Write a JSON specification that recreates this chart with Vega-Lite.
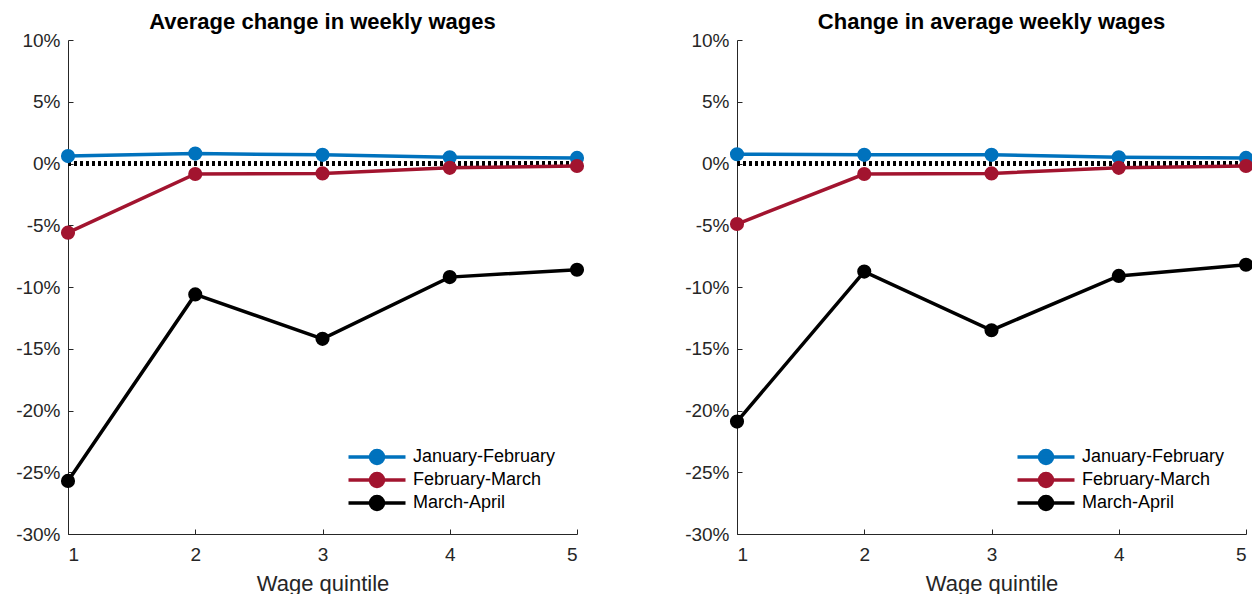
{
  "$schema": "https://vega.github.io/schema/vega-lite/v6.json",
  "padding": {"left": 15, "top": 11, "right": 0, "bottom": 0},
  "background": "white",
  "config": {
    "font": "Liberation Sans",
    "view": {"stroke": null},
    "concat": {"spacing": 99},
    "axis": {
      "domainColor": "#262626",
      "tickColor": "#262626",
      "labelColor": "#262626",
      "titleColor": "#262626",
      "labelFont": "Liberation Sans",
      "titleFont": "Liberation Sans",
      "labelFontSize": 19,
      "titleFontSize": 22,
      "titleFontWeight": "normal",
      "grid": false,
      "tickSize": -5,
      "domainWidth": 1,
      "tickWidth": 1
    },
    "title": {"font": "Liberation Sans", "fontSize": 22, "fontWeight": "bold", "color": "black", "offset": -3}
  },
  "datasets": {
    "wages": [
      {"panel": "A", "period": "January-February", "quintile": 1, "value": 0.6},
      {"panel": "A", "period": "January-February", "quintile": 2, "value": 0.8},
      {"panel": "A", "period": "January-February", "quintile": 3, "value": 0.7},
      {"panel": "A", "period": "January-February", "quintile": 4, "value": 0.5},
      {"panel": "A", "period": "January-February", "quintile": 5, "value": 0.45},
      {"panel": "A", "period": "February-March", "quintile": 1, "value": -5.6},
      {"panel": "A", "period": "February-March", "quintile": 2, "value": -0.85},
      {"panel": "A", "period": "February-March", "quintile": 3, "value": -0.8},
      {"panel": "A", "period": "February-March", "quintile": 4, "value": -0.35},
      {"panel": "A", "period": "February-March", "quintile": 5, "value": -0.2},
      {"panel": "A", "period": "March-April", "quintile": 1, "value": -25.7},
      {"panel": "A", "period": "March-April", "quintile": 2, "value": -10.6},
      {"panel": "A", "period": "March-April", "quintile": 3, "value": -14.2},
      {"panel": "A", "period": "March-April", "quintile": 4, "value": -9.2},
      {"panel": "A", "period": "March-April", "quintile": 5, "value": -8.6},
      {"panel": "B", "period": "January-February", "quintile": 1, "value": 0.75},
      {"panel": "B", "period": "January-February", "quintile": 2, "value": 0.7},
      {"panel": "B", "period": "January-February", "quintile": 3, "value": 0.7},
      {"panel": "B", "period": "January-February", "quintile": 4, "value": 0.5},
      {"panel": "B", "period": "January-February", "quintile": 5, "value": 0.45},
      {"panel": "B", "period": "February-March", "quintile": 1, "value": -4.9},
      {"panel": "B", "period": "February-March", "quintile": 2, "value": -0.85},
      {"panel": "B", "period": "February-March", "quintile": 3, "value": -0.8},
      {"panel": "B", "period": "February-March", "quintile": 4, "value": -0.35},
      {"panel": "B", "period": "February-March", "quintile": 5, "value": -0.2},
      {"panel": "B", "period": "March-April", "quintile": 1, "value": -20.9},
      {"panel": "B", "period": "March-April", "quintile": 2, "value": -8.75},
      {"panel": "B", "period": "March-April", "quintile": 3, "value": -13.5},
      {"panel": "B", "period": "March-April", "quintile": 4, "value": -9.1},
      {"panel": "B", "period": "March-April", "quintile": 5, "value": -8.2}
    ]
  },
  "hconcat": [
    {
      "width": 509,
      "height": 494,
      "title": "Average change in weekly wages",
      "data": {"name": "wages"},
      "transform": [{"filter": "datum.panel === 'A'"}],
      "layer": [
        {
          "mark": {"type": "rule", "strokeDash": [3, 3], "strokeWidth": 3.5, "color": "black"},
          "encoding": {
            "x": {"datum": 1, "type": "quantitative", "scale": {"domain": [1, 5], "nice": false, "zero": false}},
            "x2": {"datum": 5},
            "y": {"datum": 0, "type": "quantitative", "scale": {"domain": [-30, 10], "nice": false}}
          }
        },
        {
          "mark": {"type": "line", "strokeWidth": 3.5, "point": {"size": 200, "filled": true, "opacity": 1}},
          "encoding": {
            "x": {"field": "quintile", "type": "quantitative", "scale": {"domain": [1, 5], "nice": false, "zero": false}, "axis": {"values": [1, 2, 3, 4, 5], "format": "d", "title": "Wage quintile", "labelPadding": 16, "titlePadding": 9}},
            "y": {"field": "value", "type": "quantitative", "scale": {"domain": [-30, 10], "nice": false}, "axis": {"values": [-30, -25, -20, -15, -10, -5, 0, 5, 10], "labelExpr": "datum.value + '%'", "title": null, "labelPadding": 13}},
            "color": {
              "field": "period", "type": "nominal",
              "scale": {"domain": ["January-February", "February-March", "March-April"], "range": ["#0072BD", "#A2142F", "#000000"]},
              "legend": {
                "title": null, "orient": "bottom-right", "offset": 21,
                "symbolType": "M-0.85,0H4.85M1.35,0A0.65,0.65 0 1,1 2.65,0A0.65,0.65 0 1,1 1.35,0Z",
                "symbolSize": 400, "symbolStrokeWidth": 3.5, "symbolOpacity": 1,
                "labelFontSize": 18, "labelColor": "black", "labelFont": "Liberation Sans", "rowPadding": 3, "clipHeight": 20, "labelOffset": 44
              }
            }
          }
        }
      ]
    },
    {
      "width": 509,
      "height": 494,
      "title": "Change in average weekly wages",
      "data": {"name": "wages"},
      "transform": [{"filter": "datum.panel === 'B'"}],
      "layer": [
        {
          "mark": {"type": "rule", "strokeDash": [3, 3], "strokeWidth": 3.5, "color": "black"},
          "encoding": {
            "x": {"datum": 1, "type": "quantitative", "scale": {"domain": [1, 5], "nice": false, "zero": false}},
            "x2": {"datum": 5},
            "y": {"datum": 0, "type": "quantitative", "scale": {"domain": [-30, 10], "nice": false}}
          }
        },
        {
          "mark": {"type": "line", "strokeWidth": 3.5, "point": {"size": 200, "filled": true, "opacity": 1}},
          "encoding": {
            "x": {"field": "quintile", "type": "quantitative", "scale": {"domain": [1, 5], "nice": false, "zero": false}, "axis": {"values": [1, 2, 3, 4, 5], "format": "d", "title": "Wage quintile", "labelPadding": 16, "titlePadding": 9}},
            "y": {"field": "value", "type": "quantitative", "scale": {"domain": [-30, 10], "nice": false}, "axis": {"values": [-30, -25, -20, -15, -10, -5, 0, 5, 10], "labelExpr": "datum.value + '%'", "title": null, "labelPadding": 13}},
            "color": {
              "field": "period", "type": "nominal",
              "scale": {"domain": ["January-February", "February-March", "March-April"], "range": ["#0072BD", "#A2142F", "#000000"]},
              "legend": {
                "title": null, "orient": "bottom-right", "offset": 21,
                "symbolType": "M-0.85,0H4.85M1.35,0A0.65,0.65 0 1,1 2.65,0A0.65,0.65 0 1,1 1.35,0Z",
                "symbolSize": 400, "symbolStrokeWidth": 3.5, "symbolOpacity": 1,
                "labelFontSize": 18, "labelColor": "black", "labelFont": "Liberation Sans", "rowPadding": 3, "clipHeight": 20, "labelOffset": 44
              }
            }
          }
        }
      ]
    }
  ],
  "resolve": {"scale": {"color": "independent"}, "legend": {"color": "independent"}}
}
